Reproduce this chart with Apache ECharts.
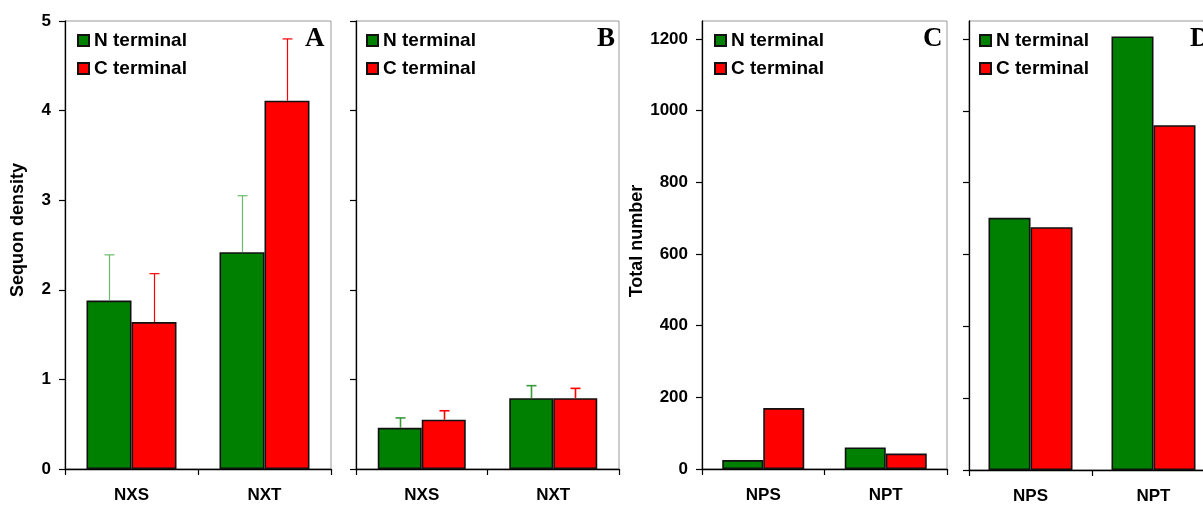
<!DOCTYPE html>
<html>
<head>
<meta charset="utf-8">
<script src="https://cdn.jsdelivr.net/npm/echarts@6/dist/echarts.min.js"></script>
<style>
  html, body { margin: 0; padding: 0; background: #fff; }
  #chart { width: 1203px; height: 508px; }
</style>
</head>
<body>
<div id="chart"></div>
<script>
// Panel A / B: sequon density (mean and SD)
const densityCats = ['NXS', 'NXT'];
const densityA_N = [1.88, 2.42];
const densityA_C = [1.64, 4.11];
const densityA_Nsd = [0.51, 0.63];
const densityA_Csd = [0.54, 0.69];
const densityB_N = [0.46, 0.79];
const densityB_C = [0.55, 0.79];
const densityB_Nsd = [0.11, 0.14];
const densityB_Csd = [0.10, 0.11];

// Panel C / D: total number
const totalCats = ['NPS', 'NPT'];
const totalC_N = [25, 60];
const totalC_C = [170, 43];
const totalD_N = [702, 1207];
const totalD_C = [676, 960];

const densityTicks = [0, 1, 2, 3, 4, 5];
const totalTicks = [0, 200, 400, 600, 800, 1000, 1200];
const panelLetters = ['A', 'B', 'C', 'D'];
const legendNames = ['N terminal', 'C terminal'];

const GREEN = '#008000';
const RED = '#ff0000';
const FONT = '"Liberation Sans", Arial, sans-serif';

// grid boxes in px
const grids = [
  { left: 65, top: 21, width: 266, height: 448 },
  { left: 356, top: 21, width: 263, height: 448 },
  { left: 702, top: 21, width: 245, height: 448 },
  { left: 969, top: 21, width: 246, height: 449 }
];
const barWidths = [45, 44, 41, 42];
const legendLeft = [77, 366, 714, 979];
const letterLeft = [305, 597, 923, 1190];

const chart = echarts.init(document.getElementById('chart'), null, { renderer: 'canvas' });

function xAxisFor(i, cats) {
  return {
    type: 'category',
    gridIndex: i,
    data: cats,
    boundaryGap: true,
    axisLine: { show: true, lineStyle: { color: '#000', width: 1.3 } },
    axisTick: { show: true, length: 6, lineStyle: { color: '#000', width: 1.2 } },
    axisLabel: { color: '#000', fontFamily: FONT, fontWeight: 'bold', fontSize: 17, margin: 18 },
    splitLine: { show: false }
  };
}

function yAxisFor(i, max, ticks, showLabels, name, namePad) {
  return {
    type: 'value',
    gridIndex: i,
    min: 0,
    max: max,
    name: name || '',
    nameLocation: 'middle',
    nameGap: 38,
    nameTextStyle: { color: '#000', fontFamily: FONT, fontWeight: 'bold', fontSize: 18, padding: namePad || 0 },
    axisLine: { show: true, lineStyle: { color: '#000', width: 1.3 } },
    axisTick: { show: true, length: 6, customValues: ticks, lineStyle: { color: '#000', width: 1.2 } },
    axisLabel: {
      show: showLabels,
      customValues: ticks,
      formatter: v => String(v),
      color: '#000', fontFamily: FONT, fontWeight: 'bold', fontSize: 17, margin: 14
    },
    splitLine: { show: false }
  };
}

function barSeries(i, name, data, color) {
  return {
    type: 'bar',
    name: name,
    xAxisIndex: i,
    yAxisIndex: i,
    data: data,
    barWidth: barWidths[i],
    barGap: '0%',
    itemStyle: { color: color, borderColor: '#111', borderWidth: 1.6 },
    emphasis: { disabled: true },
    z: 2
  };
}

function errSeries(i, means, sds, offset, color, lw) {
  return {
    type: 'custom',
    xAxisIndex: i,
    yAxisIndex: i,
    data: means.map((m, k) => [k, m, m + sds[k]]),
    z: 3,
    silent: true,
    renderItem: function (params, api) {
      const p0 = api.coord([api.value(0), api.value(1)]);
      const p1 = api.coord([api.value(0), api.value(2)]);
      const cx = Math.round(p0[0] + offset) + 0.5;
      const style = { stroke: color, lineWidth: lw };
      return {
        type: 'group',
        children: [
          { type: 'line', shape: { x1: cx, y1: p0[1], x2: cx, y2: p1[1] }, style: style },
          { type: 'line', shape: { x1: cx - 5, y1: p1[1], x2: cx + 5, y2: p1[1] }, style: style }
        ]
      };
    }
  };
}

const option = {
  animation: false,
  backgroundColor: '#fff',
  grid: grids.map(g => Object.assign({
    show: true,
    borderColor: '#999',
    borderWidth: 1,
    backgroundColor: 'transparent',
    containLabel: false,
    outerBoundsMode: 'none'
  }, g)),
  title: panelLetters.map((t, i) => ({
    text: t,
    left: letterLeft[i],
    top: 26,
    padding: 0,
    textStyle: { fontFamily: '"Liberation Serif", "Times New Roman", serif', fontWeight: 'bold', fontSize: 27, color: '#000' }
  })),
  legend: legendLeft.map(l => ({
    data: legendNames,
    left: l,
    top: 31,
    padding: 0,
    orient: 'vertical',
    icon: 'rect',
    itemWidth: 11,
    itemHeight: 11,
    itemGap: 9,
    selectedMode: false,
    textStyle: { fontFamily: FONT, fontWeight: 'bold', fontSize: 19, color: '#000', lineHeight: 19 }
  })),
  xAxis: [
    xAxisFor(0, densityCats),
    xAxisFor(1, densityCats),
    xAxisFor(2, totalCats),
    xAxisFor(3, totalCats)
  ],
  yAxis: [
    yAxisFor(0, 5, densityTicks, true, 'Sequon density', [0, 0, 0, 30]),
    yAxisFor(1, 5, densityTicks, false),
    yAxisFor(2, 1250, totalTicks, true, 'Total number', [0, 0, 0, 8]),
    yAxisFor(3, 1250, totalTicks, false)
  ],
  series: [
    barSeries(0, legendNames[0], densityA_N, GREEN),
    barSeries(0, legendNames[1], densityA_C, RED),
    errSeries(0, densityA_N, densityA_Nsd, -barWidths[0] / 2, '#6cba6c', 1.2),
    errSeries(0, densityA_C, densityA_Csd, barWidths[0] / 2, RED, 1.2),

    barSeries(1, legendNames[0], densityB_N, GREEN),
    barSeries(1, legendNames[1], densityB_C, RED),
    errSeries(1, densityB_N, densityB_Nsd, -barWidths[1] / 2, '#3a9a3a', 1.6),
    errSeries(1, densityB_C, densityB_Csd, barWidths[1] / 2, RED, 1.6),

    barSeries(2, legendNames[0], totalC_N, GREEN),
    barSeries(2, legendNames[1], totalC_C, RED),

    barSeries(3, legendNames[0], totalD_N, GREEN),
    barSeries(3, legendNames[1], totalD_C, RED)
  ]
};

chart.setOption(option);
</script>
</body>
</html>
